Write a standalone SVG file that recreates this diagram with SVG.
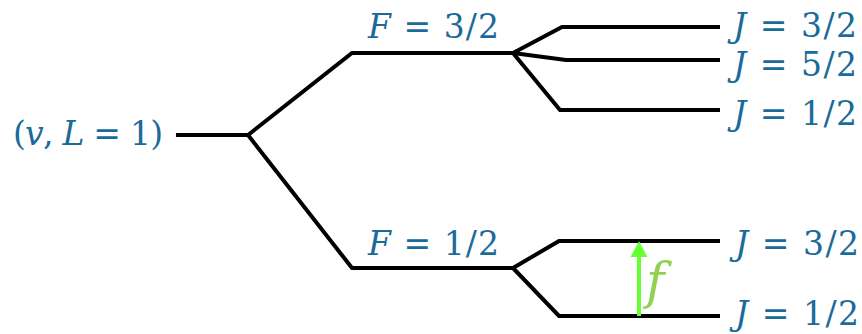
<svg xmlns="http://www.w3.org/2000/svg" width="862" height="334" viewBox="0 0 862 334">
<style>
.lv{fill:none;stroke:#000;stroke-width:4;stroke-linejoin:miter}
.t{font-family:"DejaVu Serif","Liberation Serif",serif;font-size:33px;fill:#1A6A9A}
.i{font-style:italic}
.f{font-family:"DejaVu Serif","Liberation Serif",serif;font-size:50px;font-style:italic;fill:#92D050}
</style>
<g id="connectors">
<path class="lv" d="M176,135 L248,135"/>
<path class="lv" d="M248,135 L352,53 L513,53"/>
<path class="lv" d="M248,135 L352,268 L513,268"/>
<path class="lv" d="M513,53 L562,27 L720,27"/>
<path class="lv" d="M513,53 L566,60 L720,60"/>
<path class="lv" d="M513,53 L560,110 L720,110"/>
<path class="lv" d="M513,268 L559,241 L720,241"/>
<path class="lv" d="M513,268 L559,316 L720,316"/>
<line x1="639" y1="316" x2="639" y2="255" stroke="#66FF33" stroke-width="4"/>
<polygon points="639,241 647.5,257 630.5,257" fill="#66FF33"/>
</g>
<g id="root"><text class="t" x="13" y="145" textLength="150" lengthAdjust="spacing">(<tspan class="i">v</tspan>, <tspan class="i">L</tspan> = 1)</text></g>
<g id="F32"><text class="t" x="368" y="38" textLength="131" lengthAdjust="spacing"><tspan class="i">F</tspan> = 3/2</text></g>
<g id="F12"><text class="t" x="368" y="255" textLength="131" lengthAdjust="spacing"><tspan class="i">F</tspan> = 1/2</text></g>
<g id="J32a"><text class="t" x="733" y="37" textLength="124" lengthAdjust="spacing"><tspan class="i">J</tspan> = 3/2</text></g>
<g id="J52"><text class="t" x="733" y="76" textLength="124" lengthAdjust="spacing"><tspan class="i">J</tspan> = 5/2</text></g>
<g id="J12a"><text class="t" x="733" y="125" textLength="124" lengthAdjust="spacing"><tspan class="i">J</tspan> = 1/2</text></g>
<g id="J32b"><text class="t" x="735" y="255" textLength="124" lengthAdjust="spacing"><tspan class="i">J</tspan> = 3/2</text></g>
<g id="J12b"><text class="t" x="735" y="325" textLength="124" lengthAdjust="spacing"><tspan class="i">J</tspan> = 1/2</text></g>
<g id="flabel"><text class="f" x="646" y="298">f</text></g>
</svg>
